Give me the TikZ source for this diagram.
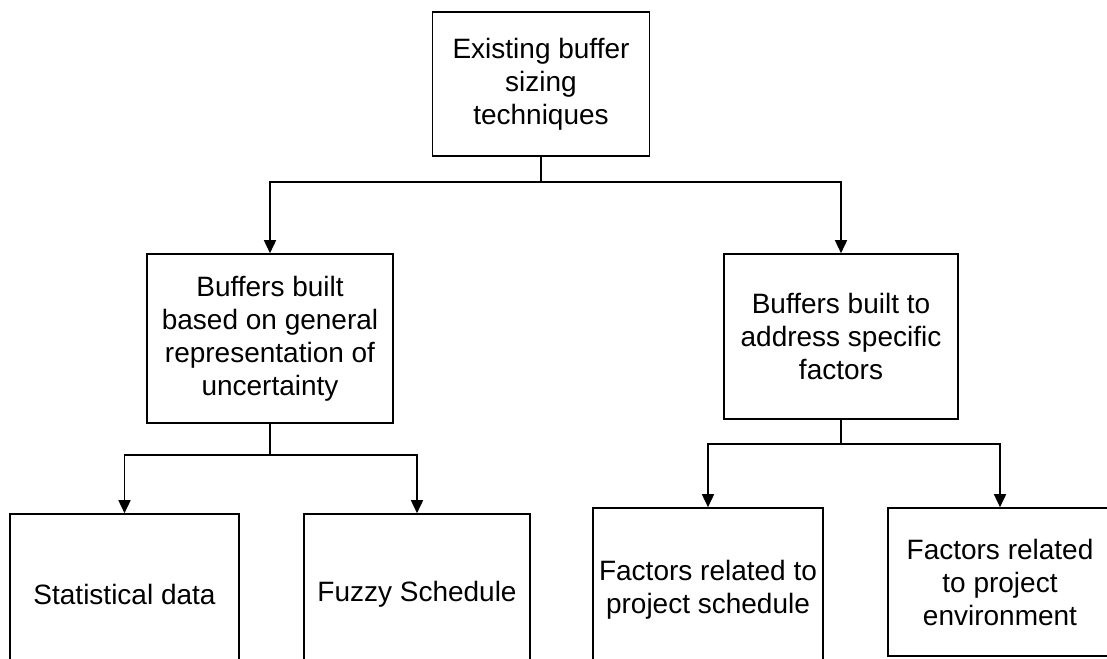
\documentclass[tikz,border=0pt]{standalone}
\usepackage{fontspec}
\setmainfont{Liberation Sans}
\usetikzlibrary{arrows.meta}
\begin{document}
\begin{tikzpicture}[x=1pt,y=-1pt,
  box/.style={draw,line width=1.6pt,align=center,inner sep=0pt,
    font=\fontsize{28}{33}\selectfont},
  link/.style={line width=1.6pt},
  arr/.style={link,-{Triangle[width=12pt,length=13pt]}}]
\fill[white] (0,0) rectangle (1107,658);
\useasboundingbox (0,0) rectangle (1107,658);
\clip (0,0) rectangle (1107,658);

% root
\node[box,minimum width=217pt,minimum height=144pt] (root) at (541,84)
  {Existing buffer\\sizing\\techniques};

% second level
\node[box,minimum width=246pt,minimum height=169pt] (general) at (270,338.5)
  {Buffers built\\based on general\\representation of\\uncertainty};
\node[box,minimum width=234pt,minimum height=165pt] (specific) at (841,336.5)
  {Buffers built to\\address specific\\factors};

% third level (boxes run past the lower edge)
\node[box,minimum width=229pt,minimum height=160pt] (stat) at (124.5,594)
  {Statistical data};
\node[box,minimum width=226pt,minimum height=160pt] (fuzzy) at (417,594)
  {Fuzzy Schedule};
\node[box,minimum width=230pt,minimum height=164pt] (sched) at (708,590)
  {Factors related to\\project schedule};
\node[box,minimum width=224pt,minimum height=148pt] (env) at (1000,582)
  {Factors related\\to project\\environment};

% connectors
\coordinate (j1) at (0,182);
\coordinate (j2) at (0,455);
\coordinate (j3) at (0,444);
\draw[link] (root.south) -- (root.south |- j1);
\draw[arr] (root.south |- j1) -| (general.north);
\draw[arr] (root.south |- j1) -| (specific.north);
\draw[link] (general.south) -- (general.south |- j2);
\draw[arr] (general.south |- j2) -| (stat.north);
\draw[arr] (general.south |- j2) -| (fuzzy.north);
\draw[link] (specific.south) -- (specific.south |- j3);
\draw[arr] (specific.south |- j3) -| (sched.north);
\draw[arr] (specific.south |- j3) -| (env.north);
\end{tikzpicture}
\end{document}
